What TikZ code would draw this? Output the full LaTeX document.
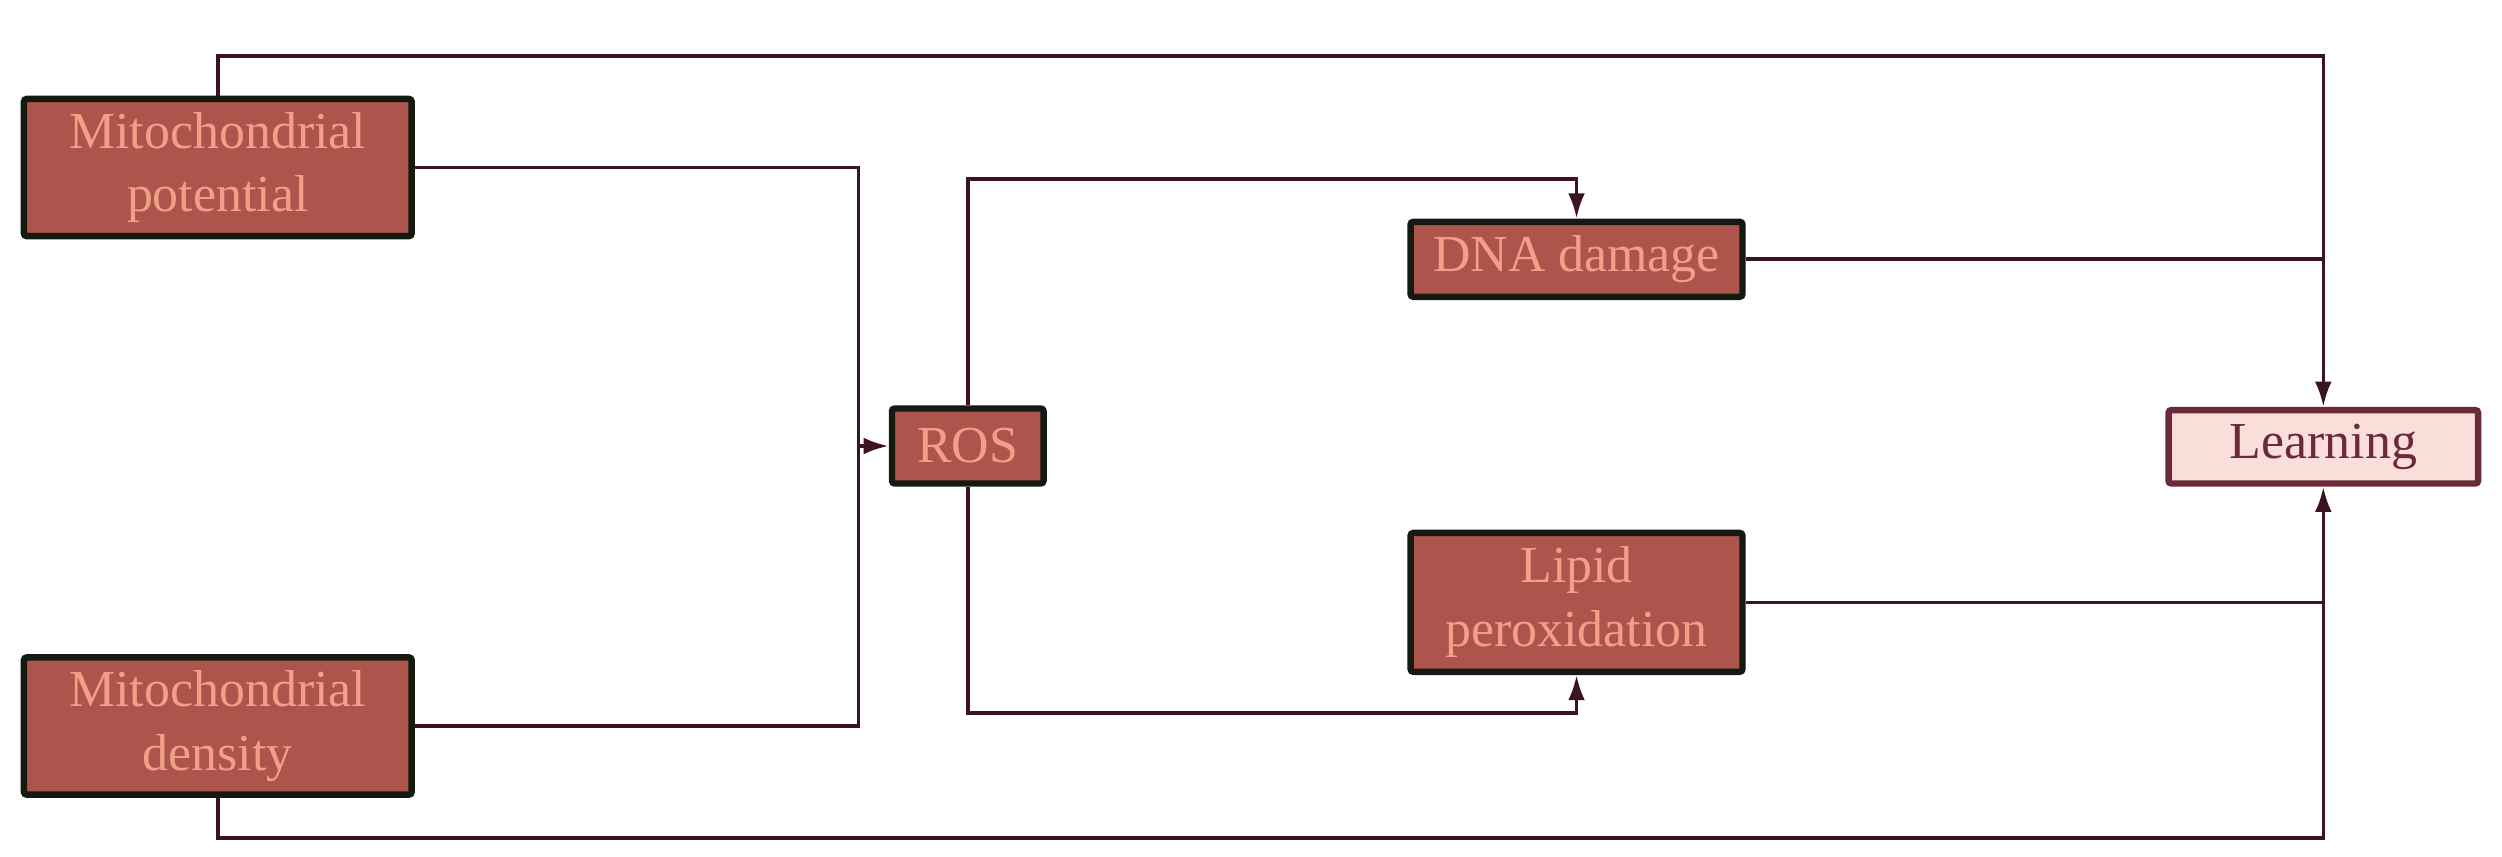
\documentclass[tikz,border=0pt]{standalone}
\usepackage{fontspec}
\setmainfont{Liberation Serif}
\usetikzlibrary{positioning, arrows.meta}

\definecolor{boxfill}{HTML}{AD544C}
\definecolor{boxtext}{HTML}{F0A089}
\definecolor{boxline}{HTML}{141A10}
\definecolor{goalfill}{HTML}{F9DEDA}
\definecolor{goalline}{HTML}{6B2A3A}
\definecolor{wire}{HTML}{3A1520}

\begin{document}
\begin{tikzpicture}[
	factor/.style={draw=boxline, fill=boxfill, text=boxtext, line width=2.3pt,
		rounded corners=1pt, align=center, inner sep=0pt,
		font=\fontsize{18.5}{22.8}\selectfont},
	goal/.style={factor, draw=goalline, fill=goalfill, text=goalline},
	link/.style={draw=wire, line width=1.3pt, -{Latex[length=9pt, width=6pt]}},
	feed/.style={draw=wire, line width=1.3pt}]

	\useasboundingbox (0,0) rectangle (31.36,-10.74);

	\node[factor, minimum width=4.86cm, minimum height=1.72cm] (pot) at (2.73,-2.10) {Mitochondrial\\potential};
	\node[factor, minimum width=4.86cm, minimum height=1.72cm] (den) at (2.73,-9.10) {Mitochondrial\\density};
	\node[factor, minimum width=1.90cm, minimum height=0.94cm] (ros) at (12.13,-5.59) {ROS};
	\node[factor, minimum width=4.16cm, minimum height=0.94cm] (dna) at (19.76,-3.25) {DNA damage};
	\node[factor, minimum width=4.16cm, minimum height=1.74cm] (lip) at (19.76,-7.55) {Lipid\\peroxidation};
	\node[goal, minimum width=3.88cm, minimum height=0.92cm] (learn) at (29.12,-5.60) {Learning};

	\coordinate (merge) at (10.76,-5.59);

	\draw[feed] (pot.east) -| (merge);
	\draw[feed] (den.east) -| (merge);
	\draw[link] (merge) -- (ros.west);
	\draw[link] (ros.north) |- (16,-2.24) -| (dna.north);
	\draw[link] (ros.south) |- (16,-8.94) -| (lip.south);
	\draw[link] (pot.north) |- (16,-0.70) -| (learn.north);
	\draw[link] (den.south) |- (16,-10.50) -| (learn.south);
	\draw[feed] (dna.east) -- (dna.east -| learn);
	\draw[feed] (lip.east) -- (lip.east -| learn);

\end{tikzpicture}
\end{document}
